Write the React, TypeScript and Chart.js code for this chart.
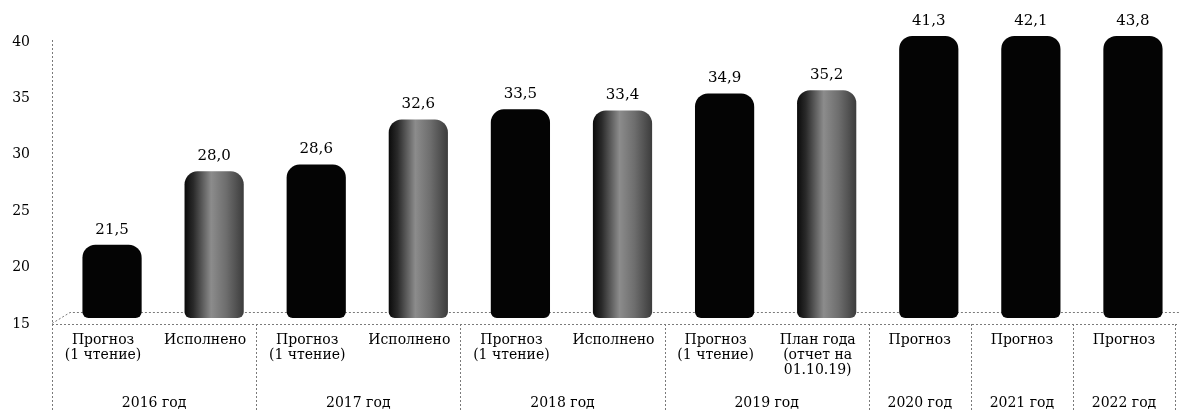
import { useEffect, useRef } from 'react';
import { Chart, registerables } from 'chart.js';

Chart.register(...registerables);

// ---- data ----
const categories: string[][] = [
  ['Прогноз', '(1 чтение)'],
  ['Исполнено'],
  ['Прогноз', '(1 чтение)'],
  ['Исполнено'],
  ['Прогноз', '(1 чтение)'],
  ['Исполнено'],
  ['Прогноз', '(1 чтение)'],
  ['План года', '(отчет на', '01.10.19)'],
  ['Прогноз'],
  ['Прогноз'],
  ['Прогноз'],
];
const values = [21.5, 28.0, 28.6, 32.6, 33.5, 33.4, 34.9, 35.2, 41.3, 42.1, 43.8];
const barKinds = ['forecast', 'actual', 'forecast', 'actual', 'forecast', 'actual', 'forecast', 'actual', 'forecast', 'forecast', 'forecast'];
const groupLabels = ['2016 год', '2017 год', '2018 год', '2019 год', '2020 год', '2021 год', '2022 год'];
const groupSizes = [2, 2, 2, 2, 1, 1, 1];
const yMin = 15;
const yMax = 40;
const yStep = 5;

const FONT = 'DejaVu Serif';
const DX = 9;
const DY = -6;

const fmt = (v: number) => v.toFixed(1).replace('.', ',');

const threeD = {
  id: 'threeD',
  beforeDatasetsDraw(chart: any) {
    const { ctx, chartArea: a } = chart;
    ctx.save();
    ctx.strokeStyle = '#7a7a7a';
    ctx.lineWidth = 1;
    ctx.setLineDash([2, 2]);
    ctx.beginPath();
    ctx.moveTo(a.left, a.bottom - 0.5);
    ctx.lineTo(a.left + 18, a.bottom - 11.5);
    ctx.lineTo(chart.width, a.bottom - 11.5);
    ctx.moveTo(a.left, a.bottom + 0.5);
    ctx.lineTo(a.right + 2, a.bottom + 0.5);
    ctx.moveTo(a.left + 0.5, a.top - 2);
    ctx.lineTo(a.left + 0.5, a.bottom);
    ctx.stroke();
    ctx.restore();
    const meta = chart.getDatasetMeta(0);
    meta.data.forEach((el: any) => {
      if (el.y < a.top) el.y = a.top;
      if (el.base > a.bottom) el.base = a.bottom;
    });
    ctx.save();
    ctx.translate(DX, DY);
  },
  afterDatasetsDraw(chart: any) {
    const { ctx, chartArea: a } = chart;
    ctx.restore();
    const meta = chart.getDatasetMeta(0);
    ctx.save();
    ctx.fillStyle = '#000';
    ctx.font = `15px "${FONT}"`;
    ctx.textAlign = 'center';
    ctx.textBaseline = 'middle';
    meta.data.forEach((el: any, i: number) => {
      ctx.fillText(fmt(values[i]), el.x + DX, el.y + DY - 15);
    });
    // group separators and labels
    const xs = chart.scales.x;
    const catW = xs.getPixelForValue(1) - xs.getPixelForValue(0);
    const bounds: number[] = [0];
    groupSizes.forEach((s) => bounds.push(bounds[bounds.length - 1] + s));
    const bx = bounds.map((b) => xs.getPixelForValue(b) - catW / 2);
    ctx.strokeStyle = '#7a7a7a';
    ctx.lineWidth = 1;
    ctx.setLineDash([2, 2]);
    ctx.beginPath();
    bx.forEach((x) => {
      const px = Math.round(x) + 0.5;
      ctx.moveTo(px, a.bottom);
      ctx.lineTo(px, chart.height);
    });
    ctx.stroke();
    ctx.setLineDash([]);
    ctx.font = `14px "${FONT}"`;
    groupLabels.forEach((g, i) => {
      ctx.fillText(g, (bx[i] + bx[i + 1]) / 2, chart.height - 7);
    });
    ctx.restore();
  },
};

function barColor(c: any) {
  if (barKinds[c.dataIndex] !== 'actual') return '#040404';
  const xs = c.chart.scales?.x;
  if (!xs || !c.chart.chartArea) return '#555';
  const cx = xs.getPixelForValue(c.dataIndex);
  const w = (xs.getPixelForValue(1) - xs.getPixelForValue(0)) * 0.58;
  const g = c.chart.ctx.createLinearGradient(cx - w / 2, 0, cx + w / 2, 0);
  g.addColorStop(0, '#0a0a0a');
  g.addColorStop(0.15, '#2a2a2a');
  g.addColorStop(0.45, '#8c8c8c');
  g.addColorStop(0.7, '#6e6e6e');
  g.addColorStop(1, '#3c3c3c');
  return g;
}

export default function App() {
  const ref = useRef<HTMLCanvasElement>(null);
  useEffect(() => {
    document.body.style.margin = '0';
    Chart.defaults.font.family = FONT;
    Chart.defaults.color = '#000';
    const chart = new Chart(ref.current!, {
      type: 'bar',
      data: {
        labels: categories,
        datasets: [
          {
            data: values,
            base: yMin,
            backgroundColor: barColor,
            borderWidth: 0,
            borderSkipped: false,
            borderRadius: { topLeft: 13, topRight: 13, bottomLeft: 6, bottomRight: 6 },
            barPercentage: 0.58,
            categoryPercentage: 1,
            clip: false as any,
          } as any,
        ],
      },
      options: {
        animation: false,
        responsive: false,
        maintainAspectRatio: false,
        layout: { padding: { top: 42, right: 4, left: 0, bottom: 0 } },
        plugins: { legend: { display: false }, tooltip: { enabled: false } },
        scales: {
          x: {
            grid: { display: false, drawTicks: false },
            border: { display: false },
            ticks: {
              autoSkip: false,
              maxRotation: 0,
              minRotation: 0,
              padding: 9,
              font: { size: 14, lineHeight: 1.07 },
              color: '#000',
            },
            afterFit(scale: any) {
              scale.height = 86;
            },
          },
          y: {
            min: yMin,
            max: yMax,
            grid: { display: false, drawTicks: false },
            border: { display: false },
            ticks: {
              stepSize: yStep,
              padding: 22,
              font: { size: 14 },
              color: '#000',
            },
            afterFit(scale: any) {
              scale.width = 52;
            },
          },
        },
      },
      plugins: [threeD],
    });
    return () => chart.destroy();
  }, []);
  return (
    <div style={{ width: 1179, height: 410 }}>
      <canvas ref={ref} width={1179} height={410} />
    </div>
  );
}
